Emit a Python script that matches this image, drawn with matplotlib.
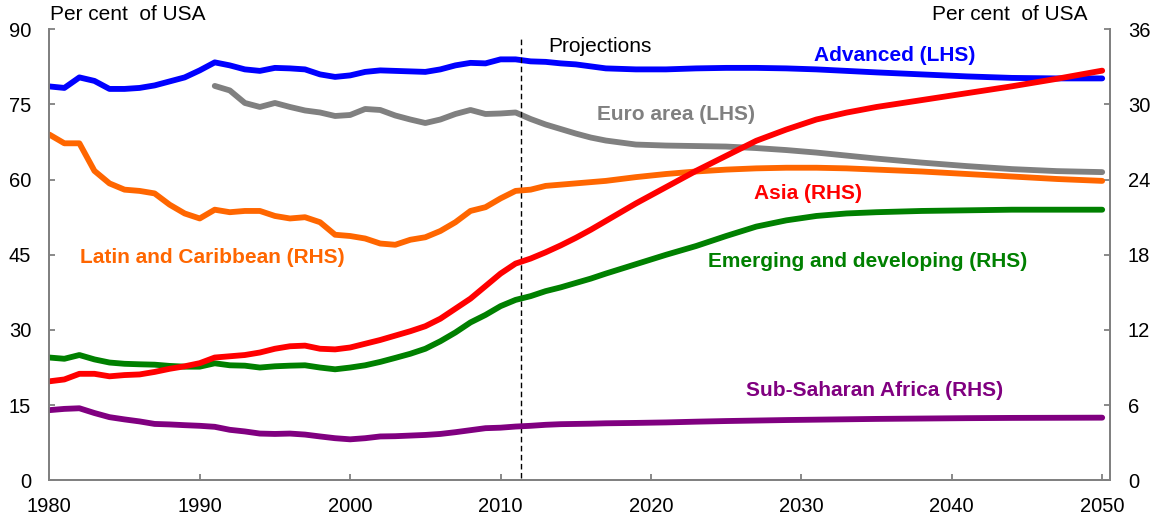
import matplotlib
matplotlib.use("Agg")
import matplotlib.pyplot as plt
import numpy as np

plt.rcParams['font.family'] = ['Liberation Sans', 'DejaVu Sans']

years = list(range(1980, 2018)) + [2019, 2021, 2023, 2025, 2027, 2029, 2031, 2033,
                                   2035, 2038, 2041, 2044, 2047, 2050]

advanced = [78.6, 78.3, 80.4, 79.7, 78.1, 78.1, 78.3, 78.8, 79.6, 80.4,
            81.8, 83.4, 82.8, 82.0, 81.7, 82.3, 82.2, 82.0, 81.0, 80.5,
            80.8, 81.5, 81.8, 81.7, 81.6, 81.5, 82.0, 82.8, 83.3, 83.2,
            84.0, 84.0, 83.6, 83.5, 83.2, 83.0, 82.6, 82.2,
            82.0, 82.0, 82.2, 82.3, 82.3, 82.2, 82.0, 81.7,
            81.4, 81.0, 80.6, 80.3, 80.2, 80.2]

euro_area = [None] * 11 + [
            78.7, 77.8, 75.3, 74.5, 75.3, 74.5, 73.8, 73.4, 72.7,
            72.9, 74.1, 73.9, 72.8, 72.0, 71.3, 72.0, 73.1, 73.9, 73.1,
            73.2, 73.4, 72.1, 71.0, 70.1, 69.2, 68.4, 67.8,
            67.0, 66.8, 66.7, 66.6, 66.3, 65.9, 65.4, 64.8,
            64.2, 63.4, 62.7, 62.1, 61.7, 61.5]

latin = [27.6, 26.9, 26.9, 24.7, 23.7, 23.2, 23.1, 22.9, 22.0, 21.3,
         20.9, 21.6, 21.4, 21.5, 21.5, 21.1, 20.9, 21.0, 20.6, 19.6,
         19.5, 19.3, 18.9, 18.8, 19.2, 19.4, 19.9, 20.6, 21.5, 21.8,
         22.5, 23.1, 23.2, 23.5, 23.6, 23.7, 23.8, 23.9,
         24.2, 24.45, 24.65, 24.8, 24.9, 24.95, 24.95, 24.9,
         24.8, 24.65, 24.45, 24.25, 24.05, 23.9]

asia = [7.9, 8.05, 8.5, 8.5, 8.3, 8.4, 8.45, 8.65, 8.9, 9.1,
        9.35, 9.8, 9.9, 10.0, 10.2, 10.5, 10.7, 10.75, 10.5, 10.45,
        10.6, 10.9, 11.2, 11.55, 11.9, 12.3, 12.9, 13.7, 14.5, 15.5,
        16.5, 17.3, 17.7, 18.2, 18.75, 19.35, 20.0, 20.7,
        22.1, 23.4, 24.7, 25.9, 27.1, 28.0, 28.8, 29.35,
        29.8, 30.35, 30.9, 31.45, 32.05, 32.7]

emerging = [9.8, 9.7, 10.0, 9.65, 9.4, 9.3, 9.26, 9.23, 9.13, 9.07,
            9.07, 9.34, 9.18, 9.15, 9.0, 9.1, 9.15, 9.18, 9.0, 8.86,
            9.0, 9.18, 9.45, 9.77, 10.1, 10.5, 11.1, 11.8, 12.6, 13.2,
            13.9, 14.4, 14.7, 15.1, 15.4, 15.75, 16.1, 16.5,
            17.25, 18.0, 18.7, 19.5, 20.25, 20.75, 21.1, 21.3,
            21.4, 21.5, 21.55, 21.6, 21.6, 21.6]

ssa = [5.6, 5.7, 5.75, 5.37, 5.04, 4.86, 4.7, 4.5, 4.46, 4.4,
       4.35, 4.27, 4.03, 3.9, 3.73, 3.7, 3.73, 3.65, 3.5, 3.36,
       3.27, 3.36, 3.5, 3.52, 3.57, 3.62, 3.7, 3.84, 4.0, 4.16,
       4.2, 4.29, 4.35, 4.43, 4.48, 4.5, 4.52, 4.55,
       4.58, 4.62, 4.68, 4.73, 4.77, 4.81, 4.84, 4.87,
       4.9, 4.93, 4.96, 4.98, 4.99, 5.0]

projection_start = 2011.35

x_ticks = [1980, 1990, 2000, 2010, 2020, 2030, 2040, 2050]
lhs_ticks = [0, 15, 30, 45, 60, 75, 90]
rhs_ticks = [0, 6, 12, 18, 24, 30, 36]

BLUE, GRAY, ORANGE, RED, GREEN, PURPLE = '#0000FF', '#808080', '#FF6600', '#FF0000', '#008000', '#800080'
SPINE = '#808080'

def arr(v):
    return np.array([np.nan if a is None else a for a in v], dtype=float)

fig = plt.figure(figsize=(11.56, 5.17), dpi=100)
ax = fig.add_axes([0.04265, 0.07099, 0.91730, 0.87234])
ax2 = ax.twinx()

lw = 4.2
kw = dict(lw=lw, solid_capstyle='round', solid_joinstyle='round')
ax.plot(years, arr(advanced), color=BLUE, **kw)
ax.plot(years, arr(euro_area), color=GRAY, **kw)
ax2.plot(years, arr(ssa), color=PURPLE, **kw)
ax2.plot(years, arr(emerging), color=GREEN, **kw)
ax2.plot(years, arr(latin), color=ORANGE, **kw)
ax2.plot(years, arr(asia), color=RED, **kw)

ax.set_xlim(1980, 2050.5)
ax.set_ylim(0, 90)
ax2.set_ylim(0, 36)
ax.set_xticks(x_ticks)
ax.set_yticks(lhs_ticks)
ax2.set_yticks(rhs_ticks)

for a in (ax, ax2):
    for s in a.spines.values():
        s.set_color(SPINE)
        s.set_linewidth(1.3)
    a.spines['top'].set_visible(False)
    a.tick_params(colors=SPINE, labelcolor='black', direction='in', length=4,
                  width=1.3, labelsize=14.5)
ax.tick_params(axis='y', pad=13)
ax2.tick_params(axis='y', pad=13)
ax.tick_params(axis='x', pad=12)

ax.axvline(projection_start, ymin=0.005, ymax=0.983, color='black', lw=1.0,
           linestyle=(0, (4, 2.5)))

ax.text(2013.2, 85.47, 'Projections', fontsize=15, ha='left', va='baseline')

lab = dict(fontsize=15, fontweight='bold', ha='center', va='center')
ax.text(2036.2, 84.7, 'Advanced (LHS)', color=BLUE, **lab)
ax.text(2021.67, 72.9, 'Euro area (LHS)', color=GRAY, **lab)
ax.text(2030.45, 57.3, 'Asia (RHS)', color=RED, **lab)
ax.text(2034.4, 43.6, 'Emerging and developing (RHS)', color=GREEN, **lab)
ax.text(2034.9, 18.0, 'Sub-Saharan Africa (RHS)', color=PURPLE, **lab)
ax.text(1990.85, 44.4, 'Latin and Caribbean (RHS)', color=ORANGE, **lab)

fig.text(50 / 1156, 1 - 20 / 517, 'Per cent  of USA', fontsize=15, ha='left', va='baseline')
fig.text(1087.7 / 1156, 1 - 20 / 517, 'Per cent  of USA', fontsize=15, ha='right', va='baseline')

fig.savefig('out.png', dpi=100)
